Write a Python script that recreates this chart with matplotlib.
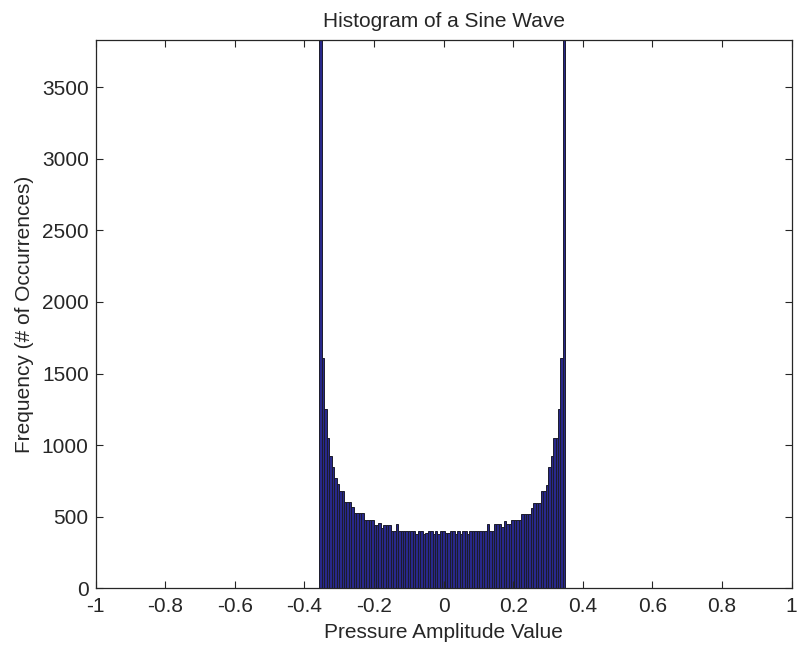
import matplotlib.pyplot as plt
import numpy as np

plt.rcParams['font.family'] = ['Liberation Sans', 'DejaVu Sans']

bin_lo = -0.357
bin_hi = 0.350

# counts per bin, 100 bins, left to right
counts = [
    4200, 1607, 1250, 1048, 926, 850, 768, 727, 680, 680,
    601, 601, 601, 566, 524, 524, 524, 524, 477, 477,
    477, 477, 442, 442, 454, 419, 442, 442, 442, 400,
    400, 447, 400, 400, 400, 400, 400, 400, 400, 378,
    400, 400, 378, 386, 400, 400, 378, 400, 378, 400,
    400, 388, 386, 400, 400, 378, 400, 378, 400, 400,
    378, 400, 400, 400, 400, 400, 400, 400, 447, 400,
    400, 447, 447, 447, 425, 469, 447, 447, 480, 480,
    480, 480, 522, 522, 522, 522, 564, 598, 598, 598,
    677, 677, 719, 850, 926, 1048, 1048, 1250, 1607, 4200,
]

xticks = [-1, -0.8, -0.6, -0.4, -0.2, 0, 0.2, 0.4, 0.6, 0.8, 1]
xticklabels = ['-1', '-0.8', '-0.6', '-0.4', '-0.2', '0', '0.2', '0.4', '0.6', '0.8', '1']
yticks = [0, 500, 1000, 1500, 2000, 2500, 3000, 3500]

edges = np.linspace(bin_lo, bin_hi, len(counts) + 1)
width = edges[1] - edges[0]

fig = plt.figure(figsize=(8, 6.5), dpi=100)
ax = fig.add_axes([0.1196, 0.0949, 0.8698, 0.8436])

ax.bar(edges[:-1], counts, width=width, align='edge',
       color='#28288a', edgecolor='#1c1c2c', linewidth=0.7)

ax.set_xlim(-1, 1)
ax.set_ylim(0, 3830)
ax.set_xticks(xticks)
ax.set_xticklabels(xticklabels)
ax.set_yticks(yticks)

ax.tick_params(direction='in', length=5, width=0.8, top=True, right=True,
               labelsize=15, colors='#262626', pad=5)
ax.tick_params(axis='x', pad=6)
for s in ax.spines.values():
    s.set_color('#262626')
    s.set_linewidth(0.9)

ax.set_title('Histogram of a Sine Wave', fontsize=15, color='#262626', pad=9)
ax.set_xlabel('Pressure Amplitude Value', fontsize=15, color='#262626', labelpad=5)
ax.set_ylabel('Frequency (# of Occurrences)', fontsize=15, color='#262626', labelpad=6)

fig.savefig('out.png', dpi=100)
